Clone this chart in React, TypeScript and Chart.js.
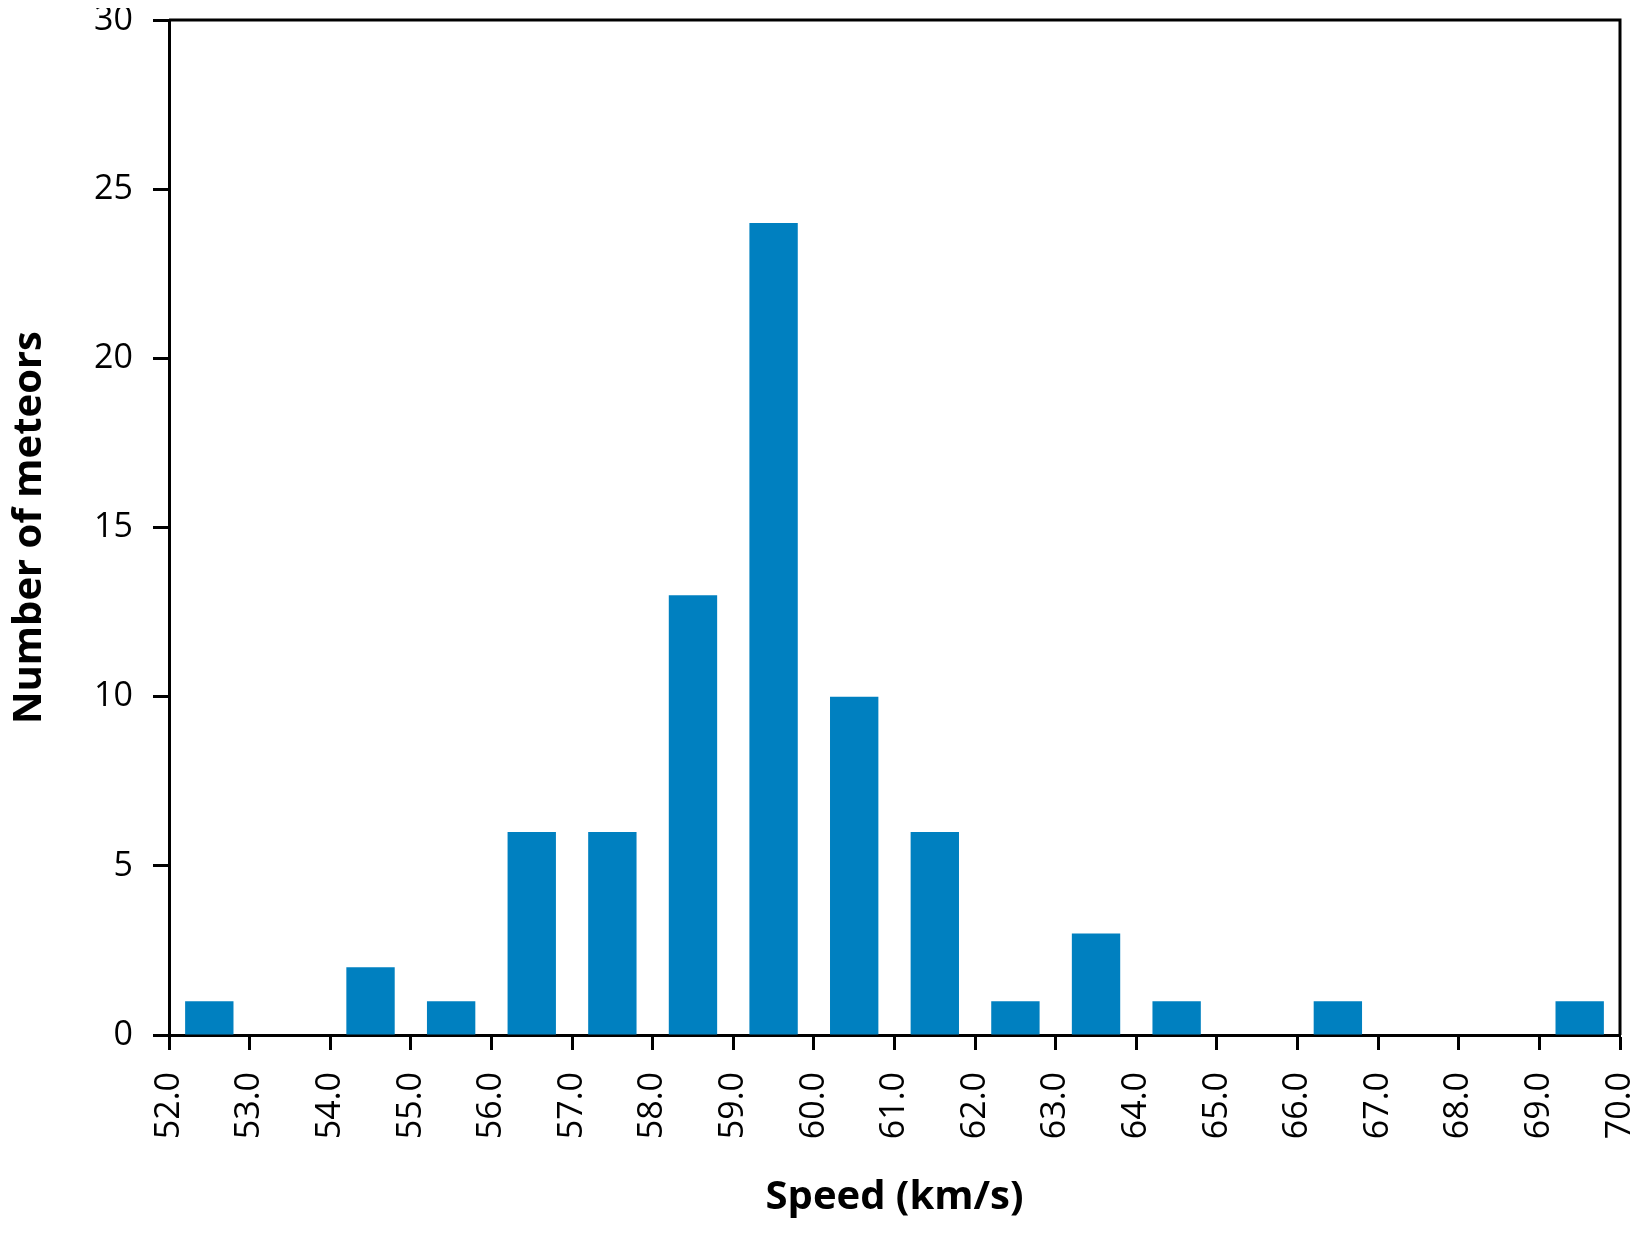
import React, { useEffect, useRef } from "react";
import { Chart, registerables } from "chart.js";

Chart.register(...registerables);

// Histogram bins (lower edge of each 1 km/s bin) and meteor counts
const binStarts = [52, 53, 54, 55, 56, 57, 58, 59, 60, 61, 62, 63, 64, 65, 66, 67, 68, 69];
const counts = [1, 0, 2, 1, 6, 6, 13, 24, 10, 6, 1, 3, 1, 0, 1, 0, 0, 1];
const xTickLabels = [
  "52.0", "53.0", "54.0", "55.0", "56.0", "57.0", "58.0", "59.0", "60.0", "61.0",
  "62.0", "63.0", "64.0", "65.0", "66.0", "67.0", "68.0", "69.0", "70.0",
];
const yTicks = [0, 5, 10, 15, 20, 25, 30];
const xTitle = "Speed (km/s)";
const yTitle = "Number of meteors";

const FONT = "'Open Sans', 'Noto Sans', sans-serif";
const BAR_COLOR = "#0080C0";

const boxPlugin = {
  id: "boxBorder",
  afterDraw(chart: any) {
    const { ctx, chartArea } = chart;
    ctx.save();
    ctx.strokeStyle = "#000";
    ctx.lineWidth = 3;
    ctx.beginPath();
    ctx.moveTo(chartArea.left, chartArea.top);
    ctx.lineTo(chartArea.right, chartArea.top);
    ctx.lineTo(chartArea.right, chartArea.bottom);
    ctx.stroke();
    ctx.restore();
  },
};

export default function App() {
  const ref = useRef<HTMLCanvasElement | null>(null);

  useEffect(() => {
    if (!ref.current) return;
    const data = binStarts.map((s, i) => ({ x: s + 0.5, y: counts[i] }));
    const chart = new Chart(ref.current, {
      type: "bar",
      data: {
        datasets: [
          {
            data: data as any,
            backgroundColor: BAR_COLOR,
            borderWidth: 0,
            categoryPercentage: 1,
            barPercentage: 0.6,
          },
        ],
      },
      plugins: [boxPlugin],
      options: {
        animation: false,
        responsive: true,
        maintainAspectRatio: false,
        layout: { padding: { left: 0, right: 27, top: 20, bottom: 0 } },
        plugins: {
          legend: { display: false },
          tooltip: { enabled: false },
        },
        scales: {
          x: {
            type: "linear",
            offset: false,
            min: binStarts[0],
            max: binStarts[binStarts.length - 1] + 1,
            afterBuildTicks: (scale: any) => {
              scale.ticks = xTickLabels.map((_, i) => ({ value: binStarts[0] + i }));
            },
            afterFit: (scale: any) => {
              scale.height = 198;
              scale.paddingLeft = 0;
              scale.paddingRight = 0;
            },
            ticks: {
              autoSkip: false,
              maxRotation: 90,
              minRotation: 90,
              padding: 22,
              color: "#000",
              font: { family: FONT, size: 34 },
              callback: (_v: any, i: number) => xTickLabels[i],
            },
            grid: {
              offset: false,
              drawOnChartArea: false,
              drawTicks: true,
              tickLength: 15,
              tickWidth: 3,
              color: "#000",
            },
            border: { display: true, color: "#000", width: 3 },
            title: {
              display: true,
              text: xTitle,
              color: "#000",
              font: { family: FONT, size: 40, weight: "bold", lineHeight: 1.75 },
              padding: { top: 0, bottom: 0 },
            },
          },
          y: {
            min: yTicks[0],
            max: yTicks[yTicks.length - 1],
            afterBuildTicks: (scale: any) => {
              scale.ticks = yTicks.map((v) => ({ value: v }));
            },
            afterFit: (scale: any) => {
              scale.width = 169;
              scale.paddingTop = 0;
              scale.paddingBottom = 0;
            },
            ticks: {
              padding: 20,
              color: "#000",
              font: { family: FONT, size: 34 },
              callback: (v: any) => String(v),
            },
            grid: {
              drawOnChartArea: false,
              drawTicks: true,
              tickLength: 16,
              tickWidth: 3,
              color: "#000",
            },
            border: { display: true, color: "#000", width: 3 },
            title: {
              display: true,
              text: yTitle,
              color: "#000",
              font: { family: FONT, size: 40, weight: "bold", lineHeight: 1.5 },
              padding: { top: 0, bottom: 0 },
            },
          },
        },
      },
    });
    return () => chart.destroy();
  }, []);

  return (
    <div style={{ position: "relative", margin: "-8px", width: "1647px", height: "1233px" }}>
      <canvas ref={ref} />
    </div>
  );
}
